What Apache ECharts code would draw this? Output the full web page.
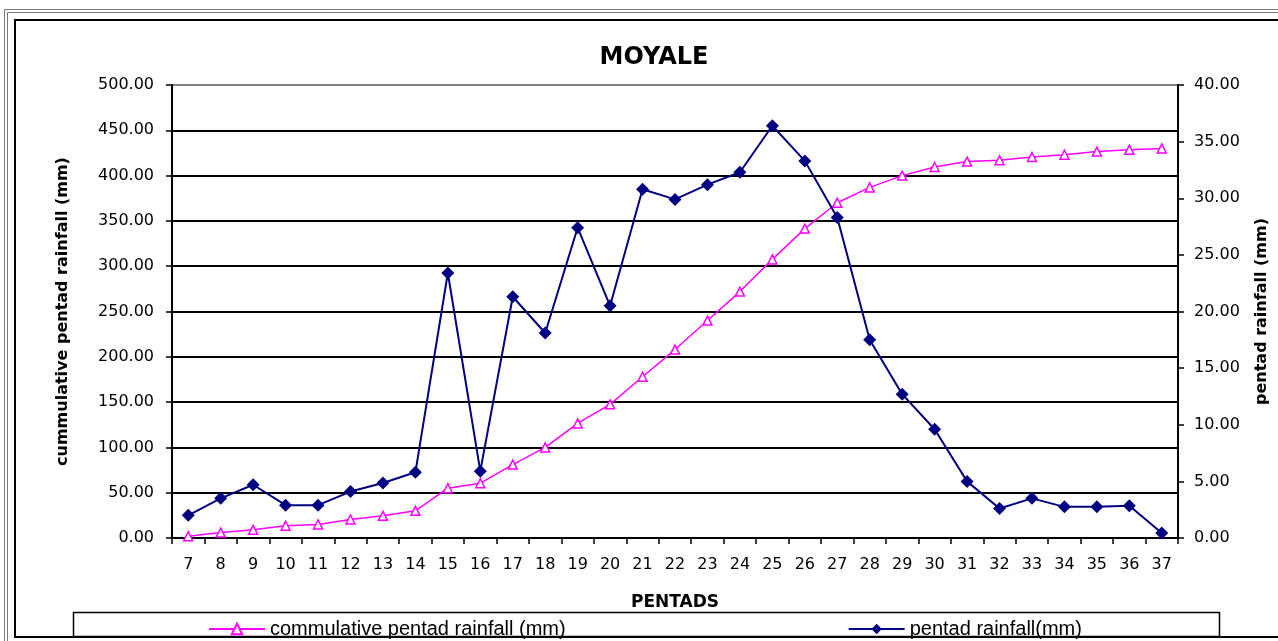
<!DOCTYPE html>
<html>
<head>
<meta charset="utf-8">
<script src="https://cdn.jsdelivr.net/npm/echarts@6/dist/echarts.min.js"></script>
<style>html,body{margin:0;padding:0;background:#fff;}#c{width:1278px;height:641px;}</style>
</head>
<body>
<div id="c"></div>
<script>
var pentads = ['7','8','9','10','11','12','13','14','15','16','17','18','19','20','21','22','23','24','25','26','27','28','29','30','31','32','33','34','35','36','37'];
var cumulative = [2,6,9,13.5,15,20.5,24.5,30,55,60.5,81,100,126.5,147.5,178,208,240,272,307.5,341.5,370,387,400,409.5,415.5,417,420.5,423,426.5,428.5,430];
var pentadRain = [2.0,3.5,4.7,2.9,2.9,4.1,4.85,5.8,23.4,5.9,21.3,18.1,27.4,20.5,30.8,29.9,31.2,32.3,36.4,33.3,28.3,17.5,12.7,9.6,5.0,2.6,3.5,2.75,2.75,2.85,0.45];
var leftTicks = {min:0, max:500, interval:50};
var rightTicks = {min:0, max:40, interval:5};

var FONT = '"DejaVu Sans", Verdana, sans-serif';
var LFONT = '"Liberation Sans", Arial, sans-serif';
var gridColors = ['#000','#000','#000','#000','#000','#000','#000','#000','#000','#000','#808080'];
var chart = echarts.init(document.getElementById('c'));
chart.setOption({
  animation:false,
  backgroundColor:'#fff',
  title:{text:'MOYALE', left:649, textAlign:'center', top:41, textStyle:{fontFamily:FONT, fontSize:24, fontWeight:'bold', color:'#000'}},
  grid:{left:172, right:99, top:85, bottom:103, containLabel:false},
  legend:{
    left:203, top:614, itemGap:282, itemWidth:56, itemHeight:13,
    textStyle:{fontFamily:LFONT, fontSize:20, color:'#000'},
    data:['commulative pentad rainfall (mm)','pentad rainfall(mm)']
  },
  xAxis:{
    type:'category', data:pentads, boundaryGap:true,
    name:'PENTADS', nameLocation:'middle', nameGap:56,
    nameTextStyle:{fontFamily:FONT, fontSize:17, fontWeight:'bold', color:'#000'},
    axisLine:{lineStyle:{color:'#000', width:2}},
    axisTick:{show:true, inside:false, length:6, interval:0, lineStyle:{color:'#000', width:1.5}},
    axisLabel:{fontFamily:FONT, fontSize:16, color:'#000', margin:19, interval:0}
  },
  yAxis:[{
    type:'value', position:'left', min:leftTicks.min, max:leftTicks.max, interval:leftTicks.interval,
    name:'cummulative pentad rainfall (mm)', nameLocation:'middle', nameGap:101, nameRotate:90,
    nameTextStyle:{fontFamily:FONT, fontSize:16, fontWeight:'bold', color:'#000'},
    axisLine:{show:true, lineStyle:{color:'#000', width:2}},
    axisTick:{show:true, length:6, lineStyle:{color:'#000', width:1.5}},
    axisLabel:{fontFamily:FONT, fontSize:16, color:'#000', margin:18, formatter:function(v){return v.toFixed(2);}},
    splitLine:{show:true, lineStyle:{color:gridColors, width:2}}
  },{
    type:'value', position:'right', min:rightTicks.min, max:rightTicks.max, interval:rightTicks.interval,
    name:'pentad rainfall (mm)', nameLocation:'middle', nameGap:76, nameRotate:90,
    nameTextStyle:{fontFamily:FONT, fontSize:16, fontWeight:'bold', color:'#000'},
    axisLine:{show:true, lineStyle:{color:'#000', width:2}},
    axisTick:{show:true, length:6, lineStyle:{color:'#000', width:1.5}},
    axisLabel:{fontFamily:FONT, fontSize:16, color:'#000', margin:16, formatter:function(v){return v.toFixed(2);}},
    splitLine:{show:false}
  }],
  series:[{
    name:'commulative pentad rainfall (mm)', type:'line', yAxisIndex:0, data:cumulative,
    symbol:'triangle', symbolSize:9, showAllSymbol:true,
    lineStyle:{color:'#FF00FF', width:1.5},
    itemStyle:{color:'#fff', borderColor:'#FF00FF', borderWidth:1.5},
    z:3
  },{
    name:'pentad rainfall(mm)', type:'line', yAxisIndex:1, data:pentadRain,
    symbol:'diamond', symbolSize:13, showAllSymbol:true,
    lineStyle:{color:'#000080', width:2},
    itemStyle:{color:'#000080', borderColor:'#000080', borderWidth:0},
    z:4
  }],
  graphic:[
    {type:'rect', shape:{x:4.5, y:9.5, width:1300, height:700}, style:{fill:null, stroke:'#777', lineWidth:1}, silent:true},
    {type:'rect', shape:{x:7.5, y:12.5, width:1300, height:700}, style:{fill:null, stroke:'#777', lineWidth:1}, silent:true},
    {type:'rect', shape:{x:15, y:20, width:1300, height:617}, style:{fill:null, stroke:'#000', lineWidth:2}, silent:true},
    {type:'rect', shape:{x:73.5, y:612.5, width:1146, height:24}, style:{fill:null, stroke:'#000', lineWidth:1.5}, silent:true}
  ]
});
</script>
</body>
</html>
